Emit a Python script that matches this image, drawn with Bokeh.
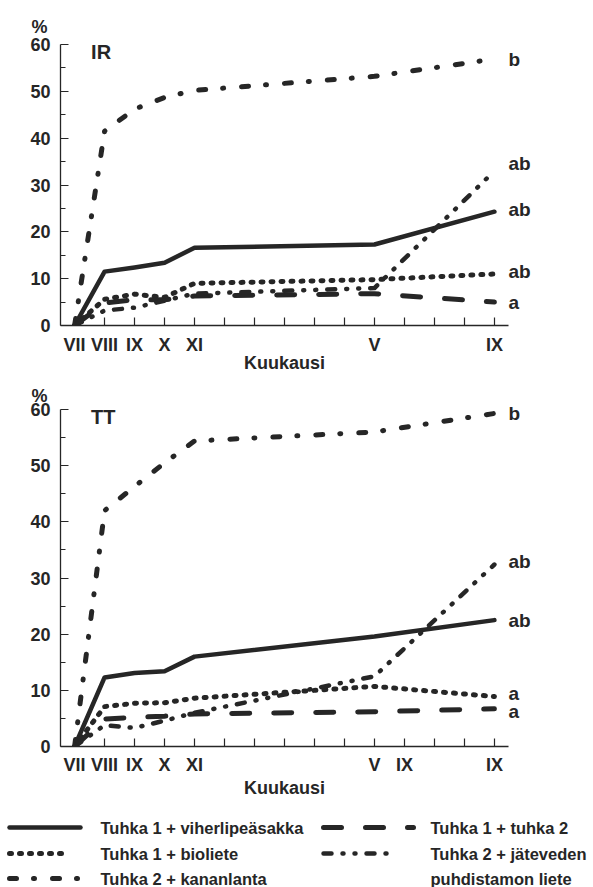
from bokeh.plotting import figure
from bokeh.layouts import column
from bokeh.models import FixedTicker, Label, LinearAxis, Range1d
from bokeh.core.properties import value
from bokeh.embed import file_html
from bokeh.resources import INLINE

FONT = "Liberation Sans"
INK = "#262626"

# Sampling months: VII, VIII, IX, X, XI of year 1, then V and IX of year 2
months = [0, 1, 2, 3, 4, 10, 14]
month_ticks = list(range(15))
ir_month_labels = {0: "VII", 1: "VIII", 2: "IX", 3: "X", 4: "XI", 10: "V", 14: "IX"}
tt_month_labels = {0: "VII", 1: "VIII", 2: "IX", 3: "X", 4: "XI", 10: "V", 11: "IX", 14: "IX"}

treatments = [
    "Tuhka 1 + viherlipeäsakka",
    "Tuhka 1 + bioliete",
    "Tuhka 2 + kananlanta",
    "Tuhka 1 + tuhka 2",
    "Tuhka 2 + jäteveden\npuhdistamon liete",
]

# IR, %
ir_viherlipea = [0, 11.5, 12.4, 13.4, 16.6, 17.3, 24.3]
ir_bioliete = [0, 5.6, 6.7, 6.0, 9.0, 9.8, 11.0]
ir_kananlanta = [0, 41.5, 46.2, 48.7, 50.2, 53.2, 56.9]
ir_tuhka2 = [0, 4.8, 5.5, 5.5, 6.3, 6.8, 5.0]
ir_jatevesi = [0, 3.2, 3.8, 5.3, 6.8, 8.0, 33.0]
ir_letters = ["ab", "ab", "b", "a", "ab"]

# TT, %
tt_viherlipea = [0, 12.3, 13.1, 13.4, 16.0, 19.6, 22.5]
tt_bioliete = [0, 7.1, 7.7, 7.8, 8.6, 10.7, 8.9]
tt_kananlanta = [0, 42.0, 46.3, 50.5, 54.4, 56.0, 59.3]
tt_tuhka2 = [0, 4.9, 5.2, 5.4, 5.8, 6.2, 6.7]
tt_jatevesi = [0, 3.8, 3.3, 4.6, 6.0, 12.5, 32.4]
tt_letters = ["ab", "a", "b", "a", "ab"]

# line style per treatment (same order as treatments)
STYLES = [
    dict(line_width=4.5, line_dash="solid"),
    dict(line_width=5, line_dash="2 8"),
    dict(line_width=5, line_dash="7 17 1 18"),
    dict(line_width=5, line_dash="18 24"),
    dict(line_width=4.5, line_dash="8 11 1 11 1 11"),
]


def style_axis(ax, size="18px"):
    ax.axis_line_color = INK
    ax.axis_line_width = 1.3
    ax.major_tick_line_color = INK
    ax.major_tick_line_width = 1.2
    ax.minor_tick_line_color = INK
    ax.minor_tick_line_width = 1.2
    ax.major_tick_out = 0
    ax.major_tick_in = 8
    ax.major_label_text_font = FONT
    ax.major_label_text_font_style = "bold"
    ax.major_label_text_font_size = size
    ax.major_label_text_color = INK


def panel(tag, series, letters, letter_shift_px, month_labels, frame_h,
          border_top, border_bottom, label_standoff, name_standoff, pct_title):
    p = figure(frame_width=448, frame_height=frame_h,
               x_range=Range1d(-0.47, 14.47), y_range=Range1d(0, 60),
               min_border_left=60, min_border_right=85,
               min_border_top=border_top, min_border_bottom=border_bottom,
               toolbar_location=None, output_backend="svg")
    p.outline_line_color = None
    p.grid.grid_line_color = None

    # "%" unit mark above the value axis
    p.title.text = "%"
    p.title.align = "left"
    p.title.offset = -29
    p.title.text_font = FONT
    p.title.text_font_style = "bold"
    p.title.text_font_size = "18px"
    p.title.text_color = INK
    for k, v in pct_title.items():
        setattr(p.title, k, v)

    for vals, st in zip(series, STYLES):
        p.line(months, vals, line_color=INK, line_cap="round",
               line_join="round", **st)

    style_axis(p.xaxis[0])
    style_axis(p.yaxis[0])

    yax = p.yaxis[0]
    yax.ticker = FixedTicker(ticks=[0, 10, 20, 30, 40, 50, 60],
                             minor_ticks=[5, 15, 25, 35, 45, 55])
    yax.minor_tick_in = 5
    yax.minor_tick_out = 0
    yax.major_label_standoff = 10

    xax = p.xaxis[0]
    xax.ticker = FixedTicker(ticks=month_ticks)
    xax.major_label_overrides = {m: month_labels.get(m, "") for m in month_ticks}
    xax.minor_tick_line_color = None
    xax.major_label_standoff = label_standoff
    xax.axis_label = "Kuukausi"
    xax.axis_label_text_font = FONT
    xax.axis_label_text_font_style = "bold"
    xax.axis_label_text_font_size = "18px"
    xax.axis_label_text_color = INK
    xax.axis_label_standoff = name_standoff

    p.add_layout(Label(x=0.55, y=60, text=tag, text_baseline="top",
                       y_offset=4, text_font=FONT, text_font_style="bold",
                       text_font_size="20px", text_color=INK))

    # significance letters at the end of each line, set as labels of a bare
    # right-hand axis (nudged a few pixels where lines end close together)
    px_unit = 60 / frame_h
    spots = [round(vals[-1] + dy * px_unit, 3)
             for vals, dy in zip(series, letter_shift_px)]
    rax = LinearAxis(ticker=FixedTicker(ticks=spots),
                     major_label_overrides=dict(zip(spots, letters)))
    style_axis(rax, size="19px")
    rax.axis_line_color = None
    rax.major_tick_line_color = None
    rax.minor_tick_line_color = None
    rax.major_tick_in = 0
    rax.major_label_standoff = 0
    p.add_layout(rax, "right")
    return p


top = panel("IR",
            [ir_viherlipea, ir_bioliete, ir_kananlanta, ir_tuhka2, ir_jatevesi],
            ir_letters, [2, 2, 0, 0, 7], ir_month_labels,
            frame_h=281, border_top=44, border_bottom=51,
            label_standoff=9, name_standoff=-5,
            pct_title=dict(standoff=15, text_line_height=1.8))

bottom = panel("TT",
               [tt_viherlipea, tt_bioliete, tt_kananlanta, tt_tuhka2, tt_jatevesi],
               tt_letters, [0, 3, 0, -3, 3], tt_month_labels,
               frame_h=337, border_top=33, border_bottom=55,
               label_standoff=8, name_standoff=0,
               pct_title=dict(standoff=8, text_line_height=1.8))

# legend strip, kept as its own root so its frame spans the full width
leg = figure(frame_width=593, frame_height=86,
             x_range=Range1d(0, 593), y_range=Range1d(86, 0),
             min_border=0, x_axis_location=None, y_axis_location=None,
             toolbar_location=None, output_backend="svg")
leg.grid.grid_line_color = None
leg.outline_line_color = None

rows = [26, 52, 77]
sample_spans = [(9, 80), (9, 66), (9, 82), (323, 413), (323, 388)]
sample_rows = [rows[0], rows[1], rows[2], rows[0], rows[1]]
text_x = [100, 100, 100, 430, 430]
for (x0, x1), yy, st in zip(sample_spans, sample_rows, STYLES):
    leg.line([x0, x1], [yy, yy], line_color=INK, line_cap="round", **st)

tx, ty, tt = [], [], []
for name, yy, xx in zip(treatments, sample_rows, text_x):
    for k, part in enumerate(name.split("\n")):
        tx.append(xx)
        ty.append(yy + 25 * k)
        tt.append(part)
leg.text(x=tx, y=ty, text=tt, text_font=value(FONT), text_font_style="bold",
         text_font_size="16.5px", text_baseline="middle", text_color=INK)

charts = column(top, bottom, spacing=0)
open("out.html", "w").write(file_html([charts, leg], INLINE))
